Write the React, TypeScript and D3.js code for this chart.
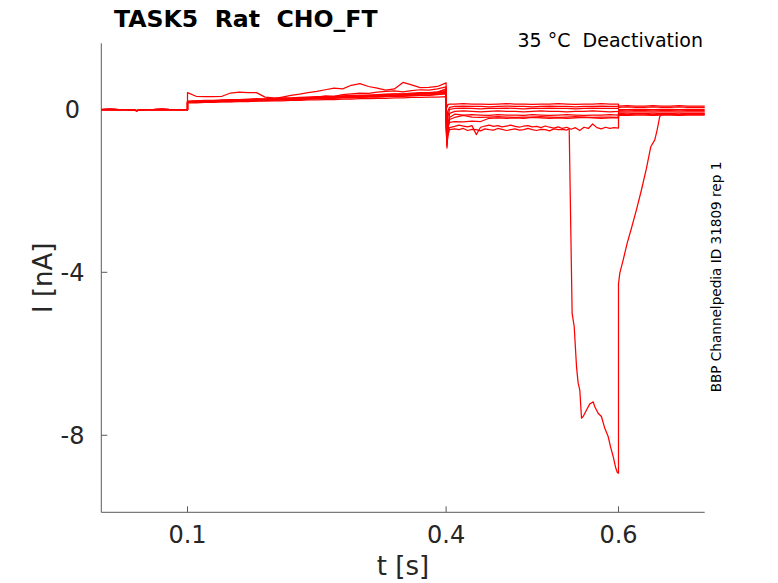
import React from 'react';
import * as d3 from 'd3';

const W = 778;
const H = 583;

const X_DOMAIN: [number, number] = [0, 0.7];
const Y_DOMAIN: [number, number] = [-9.89, 1.62];
const X_TICKS = [0.1, 0.4, 0.6];
const X_TICK_LABELS = ['0.1', '0.4', '0.6'];
const Y_TICKS = [0, -4, -8];
const Y_TICK_LABELS = ['0', '-4', '-8'];

const TITLE = 'TASK5  Rat  CHO_FT';
const SUBTITLE = '35 °C  Deactivation';
const SIDE_NOTE = 'BBP Channelpedia ID 31809 rep 1';
const X_LABEL = 't [s]';
const Y_LABEL = 'I [nA]';

// holding (0 - 0.1 s), shared by all sweeps
const BASE_T = [0, 0.01, 0.02, 0.03, 0.038, 0.041, 0.045, 0.05, 0.06, 0.07, 0.08, 0.09, 0.1];
const BASE_V = [-0.01, 0, -0.01, -0.01, -0.02, -0.03, -0.02, -0.01, -0.01, 0, -0.01, -0.01, -0.01];

// prepulse (0.1 - 0.4 s)
const PRE_T = [0.1, 0.11, 0.12, 0.13, 0.14, 0.15, 0.16, 0.17, 0.18, 0.19, 0.2, 0.21, 0.22, 0.23, 0.24, 0.25,
  0.26, 0.27, 0.28, 0.29, 0.3, 0.31, 0.32, 0.33, 0.34, 0.35, 0.36, 0.37, 0.38, 0.39, 0.4];
const S1_PRE = [0.2, 0.21, 0.22, 0.22, 0.23, 0.24, 0.24, 0.25, 0.26, 0.25, 0.27, 0.28, 0.28, 0.29, 0.3, 0.31, 0.31, 0.32, 0.33, 0.34, 0.35, 0.35, 0.36, 0.37, 0.38, 0.38, 0.4, 0.41, 0.41, 0.43, 0.46];
const S2_PRE = [0.19, 0.2, 0.2, 0.21, 0.21, 0.22, 0.23, 0.23, 0.24, 0.25, 0.26, 0.3, 0.34, 0.37, 0.41, 0.44, 0.48, 0.52, 0.5, 0.59, 0.63, 0.56, 0.52, 0.47, 0.5, 0.66, 0.6, 0.53, 0.54, 0.56, 0.65];
const S3_PRE = [0.17, 0.18, 0.18, 0.19, 0.2, 0.2, 0.21, 0.21, 0.22, 0.23, 0.23, 0.24, 0.25, 0.25, 0.26, 0.27, 0.27, 0.28, 0.29, 0.29, 0.3, 0.31, 0.31, 0.32, 0.33, 0.33, 0.34, 0.35, 0.35, 0.37, 0.4];
const S4_PRE = [0.16, 0.16, 0.17, 0.17, 0.18, 0.18, 0.19, 0.19, 0.2, 0.2, 0.21, 0.21, 0.22, 0.22, 0.23, 0.23, 0.24, 0.24, 0.25, 0.25, 0.26, 0.26, 0.27, 0.27, 0.28, 0.28, 0.29, 0.29, 0.3, 0.3, 0.31];
const S5_PRE = [0.18, 0.19, 0.19, 0.2, 0.21, 0.21, 0.22, 0.22, 0.23, 0.24, 0.24, 0.25, 0.26, 0.27, 0.28, 0.3, 0.33, 0.32, 0.36, 0.38, 0.4, 0.39, 0.42, 0.44, 0.45, 0.43, 0.46, 0.48, 0.47, 0.5, 0.55];
const S6_PRE = [0.18, 0.19, 0.19, 0.2, 0.2, 0.21, 0.22, 0.22, 0.23, 0.23, 0.24, 0.25, 0.25, 0.26, 0.27, 0.28, 0.28, 0.29, 0.3, 0.31, 0.31, 0.32, 0.33, 0.34, 0.34, 0.35, 0.36, 0.37, 0.38, 0.39, 0.42];
const S7_PRE = [0.41, 0.32, 0.31, 0.31, 0.32, 0.4, 0.42, 0.41, 0.41, 0.3, 0.28, 0.27, 0.26, 0.26, 0.27, 0.28, 0.29, 0.29, 0.3, 0.31, 0.32, 0.33, 0.33, 0.34, 0.35, 0.36, 0.37, 0.38, 0.38, 0.4, 0.44];
const S8_PRE = [0.17, 0.17, 0.18, 0.18, 0.19, 0.19, 0.2, 0.21, 0.21, 0.22, 0.22, 0.23, 0.24, 0.24, 0.25, 0.26, 0.26, 0.27, 0.28, 0.28, 0.29, 0.3, 0.3, 0.31, 0.32, 0.32, 0.33, 0.34, 0.34, 0.36, 0.38];
const S9_PRE = [0.19, 0.2, 0.2, 0.21, 0.22, 0.22, 0.23, 0.24, 0.24, 0.25, 0.26, 0.26, 0.27, 0.28, 0.29, 0.29, 0.3, 0.31, 0.32, 0.33, 0.33, 0.34, 0.35, 0.36, 0.37, 0.37, 0.38, 0.39, 0.4, 0.42, 0.5];

// test pulse (0.4 - 0.6 s)
const TEST_T = [0.4, 0.401, 0.402, 0.404, 0.41, 0.42, 0.43, 0.44, 0.45, 0.46, 0.47, 0.48, 0.49, 0.5, 0.51, 0.52,
  0.53, 0.54, 0.55, 0.56, 0.57, 0.58, 0.59, 0.6];
const S1_TEST = [0.2, 0.05, 0.11, 0.13, 0.13, 0.14, 0.13, 0.13, 0.12, 0.13, 0.14, 0.13, 0.13, 0.12, 0.13, 0.13, 0.14, 0.13, 0.12, 0.13, 0.13, 0.14, 0.13, 0.13];
const S2_TEST = [0.1, -0.3, -0.05, 0.05, 0.07, 0.08, 0.07, 0.07, 0.06, 0.07, 0.08, 0.07, 0.07, 0.06, 0.07, 0.08, 0.07, 0.07, 0.06, 0.07, 0.07, 0.08, 0.07, 0.07];
const S3_TEST = [0.05, -0.5, -0.2, 0, 0.02, 0.03, 0.02, 0.01, 0.02, 0.02, 0.03, 0.02, 0.01, 0.02, 0.02, 0.03, 0.02, 0.02, 0.01, 0.02, 0.03, 0.02, 0.02, 0.02];
const S4_TEST = [-0.1, -0.95, -0.55, -0.1, -0.05, -0.04, -0.05, -0.06, -0.05, -0.04, -0.05, -0.05, -0.06, -0.05, -0.04, -0.05, -0.05, -0.06, -0.05, -0.05, -0.04, -0.05, -0.06, -0.05];
const S5_TEST = [-0.2, -0.7, -0.4, -0.2, -0.12, -0.14, -0.13, -0.14, -0.15, -0.13, -0.14, -0.14, -0.15, -0.13, -0.14, -0.15, -0.14, -0.13, -0.14, -0.15, -0.14, -0.14, -0.13, -0.14];
const S6_TEST = [-0.25, -0.8, -0.5, -0.25, -0.2, -0.15, -0.19, -0.2, -0.19, -0.18, -0.19, -0.2, -0.19, -0.19, -0.18, -0.19, -0.2, -0.19, -0.18, -0.19, -0.2, -0.19, -0.19, -0.2];
const S7_TEST = [-0.3, -0.6, -0.45, -0.32, -0.3, -0.31, -0.29, -0.3, -0.22, -0.21, -0.22, -0.21, -0.22, -0.2, -0.21, -0.22, -0.21, -0.22, -0.21, -0.2, -0.21, -0.22, -0.21, -0.21];

const S8_TEST_T = [0.4, 0.401, 0.402, 0.404, 0.41, 0.415, 0.42, 0.425, 0.43, 0.435, 0.44, 0.445, 0.45, 0.455,
  0.46, 0.465, 0.47, 0.475, 0.48, 0.485, 0.49, 0.495, 0.5, 0.505, 0.51, 0.515, 0.52, 0.525, 0.53, 0.535, 0.54,
  0.545, 0.55, 0.555, 0.56, 0.565, 0.57, 0.575, 0.58, 0.585, 0.59, 0.595, 0.6];
const S8_TEST = [-0.4, -0.9, -0.6, -0.45, -0.42, -0.39, -0.41, -0.43, -0.4, -0.62, -0.44, -0.41, -0.39, -0.42,
  -0.4, -0.43, -0.41, -0.39, -0.42, -0.44, -0.41, -0.4, -0.43, -0.42, -0.45, -0.41, -0.44, -0.46, -0.43, -0.47, -0.44,
  -0.49, -0.45, -0.52, -0.44, -0.47, -0.36, -0.45, -0.48, -0.44, -0.47, -0.45, -0.46];

const S9_TEST_T = [0.4, 0.401, 0.402, 0.404, 0.41, 0.415, 0.42, 0.425, 0.43, 0.435, 0.44, 0.445, 0.45, 0.455,
  0.46, 0.465, 0.47, 0.475, 0.48, 0.485, 0.49, 0.495, 0.5, 0.505, 0.51, 0.515, 0.52, 0.525, 0.53, 0.535, 0.54, 0.5428];
const S9_TEST = [-0.45, -0.85, -0.65, -0.5, -0.48, -0.5, -0.47, -0.52, -0.49, -0.5, -0.53, -0.48, -0.5, -0.51,
  -0.47, -0.49, -0.52, -0.5, -0.48, -0.51, -0.5, -0.47, -0.5, -0.52, -0.49, -0.5, -0.53, -0.48, -0.5, -0.49, -0.51, -0.47];

// large inward current event of sweep 9
const S9_DROP_T = [0.5462, 0.5486, 0.5513, 0.5532, 0.5541, 0.5551, 0.5571, 0.559, 0.5629, 0.5667, 0.5706, 0.5725,
  0.5764, 0.5802, 0.5841, 0.588, 0.5907, 0.5938, 0.5969, 0.5988, 0.6];
const S9_DROP = [-5.01, -5.33, -6.32, -6.72, -6.8, -6.89, -7.58, -7.54, -7.38, -7.23, -7.18, -7.3,
  -7.46, -7.54, -7.83, -8.03, -8.28, -8.52, -8.81, -8.92, -8.93];

// post pulse (0.6 - 0.7 s)
const POST_T = [0.6, 0.61, 0.62, 0.63, 0.64, 0.65, 0.66, 0.67, 0.68, 0.69, 0.7];
const S1_POST = [0.08, 0.09, 0.08, 0.08, 0.09, 0.08, 0.08, 0.09, 0.08, 0.08, 0.08];
const S2_POST = [0.05, 0.06, 0.05, 0.05, 0.06, 0.05, 0.05, 0.06, 0.05, 0.05, 0.05];
const S3_POST = [0, -0.01, 0, 0, -0.01, 0, 0, -0.01, 0, 0, 0];
const S4_POST = [-0.03, -0.04, -0.03, -0.03, -0.04, -0.03, -0.03, -0.04, -0.03, -0.03, -0.03];
const S5_POST = [-0.06, -0.07, -0.06, -0.06, -0.07, -0.06, -0.06, -0.07, -0.06, -0.06, -0.06];
const S6_POST = [-0.1, -0.11, -0.1, -0.1, -0.11, -0.1, -0.1, -0.11, -0.1, -0.1, -0.1];
const S7_POST = [-0.12, -0.13, -0.12, -0.12, -0.13, -0.12, -0.12, -0.13, -0.12, -0.12, -0.12];
const S8_POST = [-0.14, -0.15, -0.14, -0.14, -0.15, -0.14, -0.14, -0.15, -0.14, -0.14, -0.14];

const S9_REC_T = [0.6, 0.6015, 0.6054, 0.61, 0.615, 0.6208, 0.6266, 0.6324, 0.6374, 0.6421, 0.6448, 0.6478,
  0.65, 0.66, 0.67, 0.68, 0.69, 0.7];
const S9_REC = [-4.28, -4.02, -3.7, -3.29, -2.92, -2.47, -1.98, -1.45, -0.92, -0.75, -0.51, -0.18,
  -0.13, -0.12, -0.13, -0.12, -0.12, -0.12];

type Pt = [number, number];
const zip = (t: number[], v: number[]): Pt[] => {
  const n = Math.min(t.length, v.length);
  const out: Pt[] = [];
  for (let i = 0; i < n; i++) out.push([t[i], v[i]]);
  return out;
};

const base = zip(BASE_T, BASE_V);
const SWEEPS: Pt[][] = [
  [...base, ...zip(PRE_T, S1_PRE), ...zip(TEST_T, S1_TEST), ...zip(POST_T, S1_POST)],
  [...base, ...zip(PRE_T, S2_PRE), ...zip(TEST_T, S2_TEST), ...zip(POST_T, S2_POST)],
  [...base, ...zip(PRE_T, S3_PRE), ...zip(TEST_T, S3_TEST), ...zip(POST_T, S3_POST)],
  [...base, ...zip(PRE_T, S4_PRE), ...zip(TEST_T, S4_TEST), ...zip(POST_T, S4_POST)],
  [...base, ...zip(PRE_T, S5_PRE), ...zip(TEST_T, S5_TEST), ...zip(POST_T, S5_POST)],
  [...base, ...zip(PRE_T, S6_PRE), ...zip(TEST_T, S6_TEST), ...zip(POST_T, S6_POST)],
  [...base, ...zip(PRE_T, S7_PRE), ...zip(TEST_T, S7_TEST), ...zip(POST_T, S7_POST)],
  [...base, ...zip(PRE_T, S8_PRE), ...zip(S8_TEST_T, S8_TEST), ...zip(POST_T, S8_POST)],
  [...base, ...zip(PRE_T, S9_PRE), ...zip(S9_TEST_T, S9_TEST), ...zip(S9_DROP_T, S9_DROP), ...zip(S9_REC_T, S9_REC)],
];

const FONT = '"DejaVu Sans", sans-serif';
const AXIS_COLOR = '#5a5a5a';
const TEXT_COLOR = '#262626';

export default function App() {
  const left = 101.3, right = 704.7, top = 43.3, bottom = 512.3;
  const x = d3.scaleLinear().domain(X_DOMAIN).range([left, right]);
  const y = d3.scaleLinear().domain(Y_DOMAIN).range([bottom, top]);
  const line = d3.line<Pt>().x(d => x(d[0])).y(d => y(d[1]));
  const tickLen = 6;

  return (
    <svg width={W} height={H} viewBox={`0 0 ${W} ${H}`}
      style={{ position: 'absolute', left: 0, top: 0, background: '#fff' }}>
      <rect x={0} y={0} width={W} height={H} fill="#fff" />
      {/* axes */}
      <line x1={left} y1={top} x2={left} y2={bottom} stroke={AXIS_COLOR} strokeWidth={1} />
      <line x1={left} y1={bottom} x2={right} y2={bottom} stroke={AXIS_COLOR} strokeWidth={1} />
      {X_TICKS.map((t, i) => (
        <g key={'xt' + i}>
          <line x1={x(t)} x2={x(t)} y1={bottom} y2={bottom - tickLen} stroke={AXIS_COLOR} strokeWidth={1} />
          <text x={x(t)} y={543} textAnchor="middle" fontFamily={FONT} fontSize={24} fill={TEXT_COLOR}>
            {X_TICK_LABELS[i]}
          </text>
        </g>
      ))}
      {Y_TICKS.map((v, i) => (
        <g key={'yt' + i}>
          <line x1={left} x2={left + tickLen} y1={y(v)} y2={y(v)} stroke={AXIS_COLOR} strokeWidth={1} />
          <text x={72.5} y={y(v) + 8.8} textAnchor="middle" fontFamily={FONT} fontSize={24} fill={TEXT_COLOR}>
            {Y_TICK_LABELS[i]}
          </text>
        </g>
      ))}
      {/* traces */}
      <g fill="none" stroke="#ff0000" strokeWidth={1.25} strokeLinejoin="round">
        {SWEEPS.map((s, i) => (
          <path key={'s' + i} d={line(s) || ''} />
        ))}
      </g>
      {/* labels */}
      <text x={(left + right) / 2} y={575} textAnchor="middle" fontFamily={FONT} fontSize={26} fill={TEXT_COLOR}>
        {X_LABEL}
      </text>
      <text transform={`translate(51.7, ${(top + bottom) / 2}) rotate(-90)`} textAnchor="middle"
        fontFamily={FONT} fontSize={26} fill={TEXT_COLOR}>
        {Y_LABEL}
      </text>
      <text x={114} y={26.7} fontFamily={FONT} fontSize={23.6} fontWeight="bold" fill="#000"
        style={{ whiteSpace: 'pre' }}>
        {TITLE}
      </text>
      <text x={703} y={47.3} textAnchor="end" fontFamily={FONT} fontSize={19} fill="#000"
        style={{ whiteSpace: 'pre' }}>
        {SUBTITLE}
      </text>
      <text transform={`translate(721, 277) rotate(-90)`} textAnchor="middle" fontFamily={FONT}
        fontSize={13.6} fill="#000">
        {SIDE_NOTE}
      </text>
    </svg>
  );
}
